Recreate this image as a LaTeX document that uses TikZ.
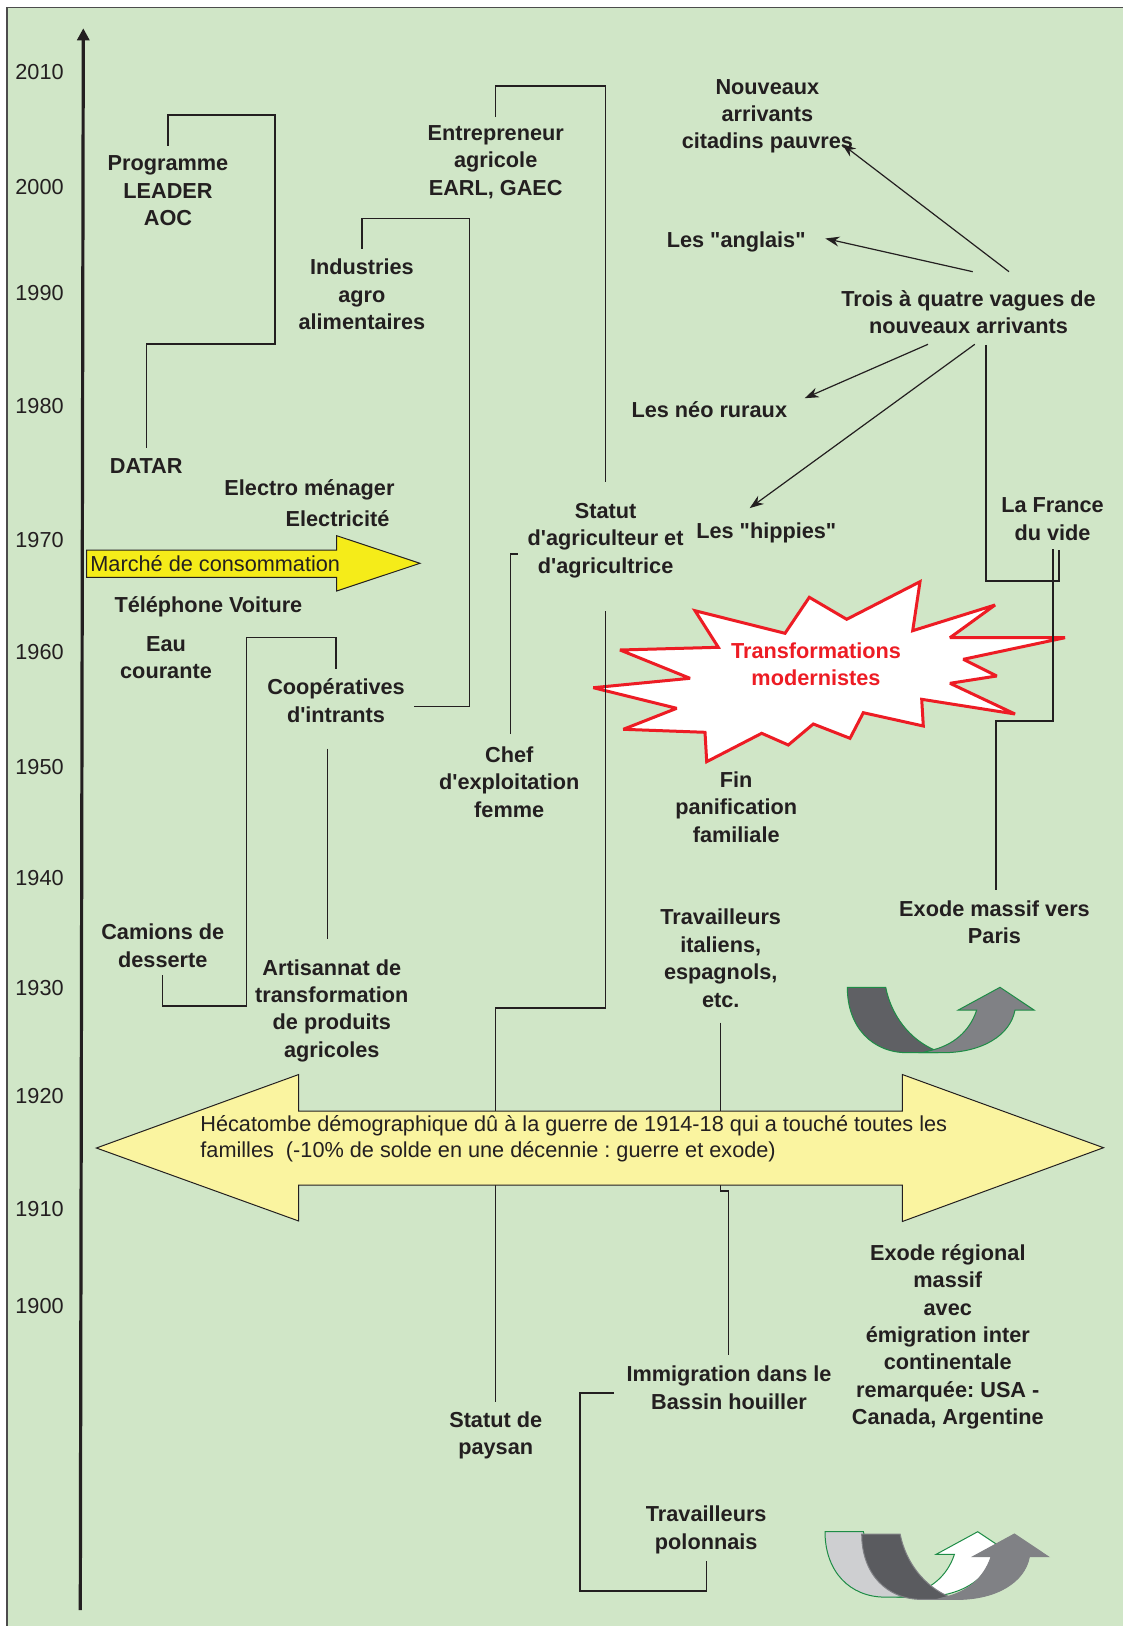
\documentclass[tikz,border=0pt]{standalone}
\usepackage{fontspec}
\setmainfont{Liberation Sans}[Ligatures=TeXOff]
\usetikzlibrary{arrows.meta}
\definecolor{bg}{RGB}{208,230,199}
\definecolor{txt}{RGB}{35,31,32}
\definecolor{pale}{RGB}{250,244,160}
\definecolor{brightyel}{RGB}{245,236,25}
\definecolor{starred}{RGB}{237,28,36}
\definecolor{dkgray}{RGB}{95,96,100}
\definecolor{mdgray}{RGB}{128,129,133}
\definecolor{ltgray}{RGB}{206,207,209}
\definecolor{edgegreen}{RGB}{30,140,70}
\newcommand\uarrowshape[5]{%
 \begin{scope}[shift={(#1,#2)}]
 \filldraw[fill=#3, draw=#5, line width=0.5pt] (0,0) -- (38.4,0) .. controls (44,28) and (62,52) .. (88,63) -- (90,65.4) -- (60,65.4) .. controls (25,65.4) and (0,40) .. (0,0) -- cycle;
 \filldraw[fill=#4, draw=#5, line width=0.5pt] (75,65.4) -- (95,65.4) .. controls (135,65.4) and (163,48) .. (167.7,22.7) -- (186.7,22.7) -- (152.7,0) -- (111,22.7) -- (129.4,22.7) .. controls (122,45) and (105,58) .. (84,63) -- cycle;
 \end{scope}}
\frenchspacing
\begin{document}
\frenchspacing
\begin{tikzpicture}[x=0.5pt,y=-0.5pt,
 lbl/.style={font=\fontsize{10.85}{13.7}\selectfont\bfseries\frenchspacing, text=txt, align=center, inner sep=0pt, yshift=-0.6pt},
 yr/.style={font=\fontsize{10.85}{13.7}\selectfont, text=txt, anchor=west, inner sep=0pt},
 plain/.style={font=\fontsize{10.85}{13.2}\selectfont\frenchspacing, text=txt, inner sep=0pt},
 conn/.style={draw=txt, line width=0.6pt},
 arr/.style={draw=txt, line width=0.6pt, -{Stealth[length=7pt,width=5pt]}},
]
\useasboundingbox (0,0) rectangle (1123,1626);
\fill[white] (0,0) rectangle (1123,1626);
\fill[bg] (7,7.5) rectangle (1123,1626);
\draw[line width=0.8pt, draw=black!70] (7,1626) -- (7,7.5) -- (1123,7.5);

% axis
\coordinate (axbot) at (80.3,1610);
\coordinate (axtop) at (83.3,28.3);
\draw[line width=1.6pt, draw=txt, -{Triangle[length=6pt,width=6pt]}] (axbot) -- (axtop);

% years
\node[yr] (y2010) at (15,72) {2010};
\node[yr] (y2000) at (15,187.2) {2000};
\node[yr] (y1990) at (15,293.4) {1990};
\node[yr] (y1980) at (15,406.5) {1980};
\node[yr] (y1970) at (15,540) {1970};
\node[yr] (y1960) at (15,652) {1960};
\node[yr] (y1950) at (15,767) {1950};
\node[yr] (y1940) at (15,878) {1940};
\node[yr] (y1930) at (15,988) {1930};
\node[yr] (y1920) at (15,1096) {1920};
\node[yr] (y1910) at (15,1209) {1910};
\node[yr] (y1900) at (15,1306) {1900};

% starburst
\filldraw[fill=white, draw=starred, line width=1.5pt, line join=miter, miter limit=3]
 (593.3,687.7) -- (690,678.3) -- (620,650) -- (718.3,647.3) -- (695,610.7) -- (785,633.3)
 -- (809.3,597.3) -- (846.7,619.3) -- (920,581.7) -- (912.7,630.7) -- (995,605) -- (950,637.7)
 -- (1065,637.7) -- (963.3,659.3) -- (996.7,676) -- (950,683.3) -- (1015,714) -- (921.7,699.3)
 -- (923.3,726) -- (863.3,712.7) -- (850,738.3) -- (813.3,724) -- (788.3,745) -- (761.7,733.3)
 -- (706.7,761.7) -- (705,732.3) -- (623.3,729.3) -- (676.7,708.3) -- cycle;

% text nodes
\node[lbl] (prog) at (168,189.7) {Programme\\LEADER\\AOC};
\node[lbl] (datar) at (146.2,464.5) {DATAR};
\node[lbl] (elecA) at (309.5,488.4) {Electro ménager};
\node[lbl] (elecB) at (337.5,517.4) {Electricité};
\node[lbl] (tel) at (208.4,605.6) {Téléphone Voiture};
\node[lbl] (eau) at (166,656.4) {Eau\\courante};
\node[lbl] (coop) at (336,699.3) {Coopératives\\d'intrants};
\node[lbl] (camions) at (162.8,944.6) {Camions de\\desserte};
\node[lbl] (artis) at (331.8,1009.5) {Artisannat de\\transformation\\de produits\\agricoles};
\node[lbl] (indus) at (361.9,293.4) {Industries\\agro\\alimentaires};
\node[lbl] (entre) at (495.7,160.7) {Entrepreneur\\agricole\\EARL, GAEC};
\node[lbl] (statut) at (605.6,539.2) {Statut\\d'agriculteur et\\d'agricultrice};
\node[lbl] (chef) at (509.2,780.8) {Chef\\d'exploitation\\femme};
\node[lbl] (nouv) at (767.4,115.1) {Nouveaux\\arrivants\\citadins pauvres};
\node[lbl] (angl) at (736.2,240.5) {Les "anglais"};
\node[lbl] (trois) at (968.5,311) {Trois à quatre vagues de\\nouveaux arrivants};
\node[lbl] (neo) at (709.3,408.5) {Les néo ruraux};
\node[lbl] (hippies) at (766.3,531.9) {Les "hippies"};
\node[lbl] (france) at (1052.5,518) {La France\\du vide};
\node[lbl, text=starred] (transf) at (816,663) {Transformations\\modernistes};
\node[lbl] (fin) at (736.2,805.7) {Fin\\panification\\familiale};
\node[lbl] (ital) at (720.7,957.1) {Travailleurs\\italiens,\\espagnols,\\etc.};
\node[lbl] (immig) at (729,1386.4) {Immigration dans le\\Bassin houiller};
\node[lbl] (polon) at (706.2,1528.5) {Travailleurs\\polonnais};
\node[lbl] (paysan) at (495.7,1434) {Statut de\\paysan};
\node[lbl] (exparis) at (994.5,920.8) {Exode massif vers\\Paris};
\node[lbl] (exreg) at (947.8,1335.6) {Exode régional\\massif\\avec\\émigration inter\\continentale\\remarquée: USA -\\Canada, Argentine};

% connectors
\draw[conn] (prog.north |- 0,146) -- (prog.north |- 0,115) -- (275,115) -- (275,344) -- (datar.north |- 0,344) -- (datar.north |- 0,448);
\draw[conn] (coop.north |- 0,668.8) -- (coop.north |- 0,637.7) -- (246.8,637.7) -- (246.8,1005.9) -- (camions.south |- 0,1005.9) -- (camions.south |- 0,974.8);
\draw[conn] (327.7,748.7) -- (327.7,938.5);
\draw[conn] (indus.north |- 0,248.9) -- (indus.north |- 0,218.8) -- (469.7,218.8) -- (469.7,706.2) -- (413.7,706.2);
\draw[conn] (entre.north |- 0,117.2) -- (entre.north |- 0,86.1) -- (statut.north |- 0,86.1) -- (statut.north |- 0,482.2);
\draw[conn] (statut.south |- 0,611) -- (statut.south |- 0,1008) -- (paysan.north |- 0,1008) -- (paysan.north |- 0,1402);
\draw[conn] (510.7,734) -- (510.7,554) -- (518,554);
\draw[conn] (ital.south |- 0,1022.5) -- (ital.south |- 0,1191) -- (728.3,1191) -- (728.3,1355);
\draw[conn] (614,1393) -- (580,1393) -- (580,1591) -- (706.7,1591) -- (706.7,1560.7);
\draw[conn] (986,345) -- (986,581) -- (1059,581) -- (1059,550);
\draw[conn] (1053,549) -- (1053,721) -- (996,721) -- (996,890);

% arrows from trois
\draw[arr] (1009,271.7) -- (842,144.1);
\draw[arr] (972.7,271.7) -- (825.4,238.5);
\draw[arr] (928,344.3) -- (804.7,398.2);
\draw[arr] (974.8,344.3) -- (749.7,508.1);

% marche arrow
\filldraw[fill=brightyel, draw=txt, line width=0.5pt] (86.7,550) -- (336.7,550) -- (336.7,535.7) -- (420,563.3) -- (336.7,591) -- (336.7,577.3) -- (86.7,577.3) -- cycle;
\node[plain, anchor=west] (marche) at (90,564) {Marché de consommation};

% big double arrow
\filldraw[fill=pale, draw=txt, line width=0.5pt] (96.4,1148) -- (298.7,1074.5) -- (298.7,1111) -- (902.3,1111) -- (902.3,1074.5) -- (1103.5,1147.7) -- (902.3,1221.5) -- (902.3,1185) -- (298.7,1185) -- (298.7,1221) -- cycle;
\node[plain, anchor=west, align=left] (heca) at (200,1138.5) {Hécatombe démographique dû à la guerre de 1914-18 qui a touché toutes les\\familles~~(-10\% de solde en une décennie : guerre et exode)};

% U arrows
\uarrowshape{847.3}{987.3}{dkgray}{mdgray}{edgegreen}
\uarrowshape{825}{1531.7}{ltgray}{white}{edgegreen}
\uarrowshape{861.7}{1534}{dkgray!95!black}{mdgray}{mdgray}
\end{tikzpicture}
\end{document}
